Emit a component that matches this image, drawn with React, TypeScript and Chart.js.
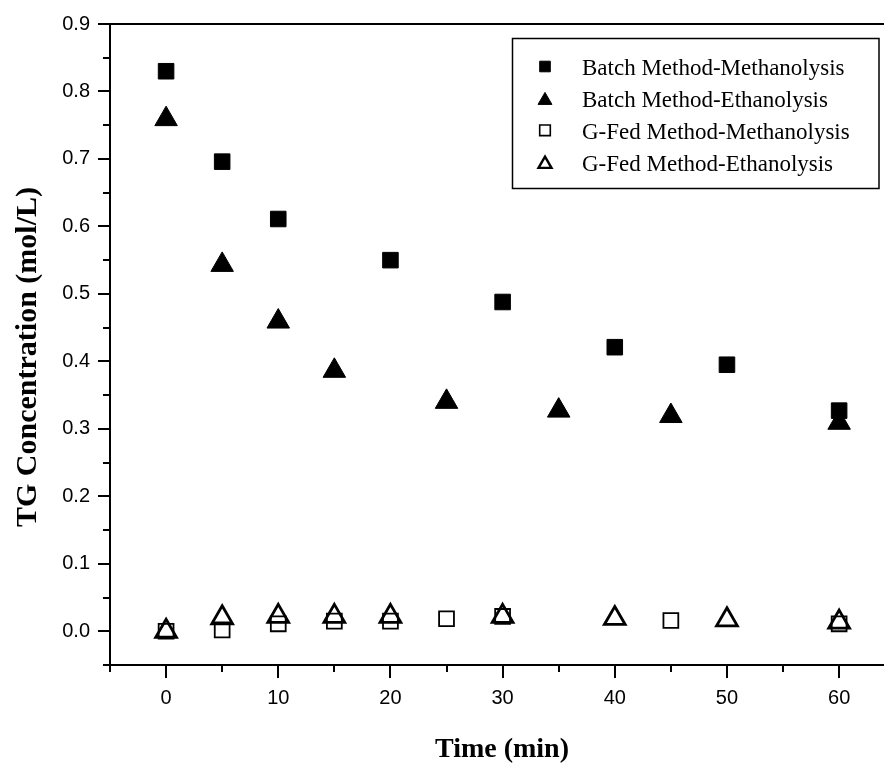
import React, { useEffect, useRef } from 'react';
import { Chart, registerables } from 'chart.js';
import { drawPoint } from 'chart.js/helpers';

Chart.register(...registerables);

// ---- data ----
const seriesNames = [
  'Batch Method-Methanolysis',
  'Batch Method-Ethanolysis',
  'G-Fed Method-Methanolysis',
  'G-Fed Method-Ethanolysis',
];
const batchMethTime = [0, 5, 10, 20, 30, 40, 50, 60];
const batchMethConc = [0.83, 0.696, 0.611, 0.55, 0.488, 0.421, 0.395, 0.327];
const batchEthTime = [0, 5, 10, 15, 25, 35, 45, 60];
const batchEthConc = [0.759, 0.543, 0.459, 0.386, 0.34, 0.327, 0.319, 0.309];
const gfedMethTime = [0, 5, 10, 15, 20, 25, 30, 45, 60];
const gfedMethConc = [0.0, 0.002, 0.011, 0.015, 0.015, 0.0185, 0.022, 0.016, 0.011];
const gfedEthTime = [0, 5, 10, 15, 20, 30, 40, 50, 60];
const gfedEthConc = [0.0, 0.02, 0.022, 0.022, 0.022, 0.022, 0.019, 0.017, 0.0135];

const xMajorTicks = [0, 10, 20, 30, 40, 50, 60];
const xMinorTicks = [-5, 5, 15, 25, 35, 45, 55];
const yMajorTicks = [0, 0.1, 0.2, 0.3, 0.4, 0.5, 0.6, 0.7, 0.8, 0.9];
const yMinorTicks = [-0.05, 0.05, 0.15, 0.25, 0.35, 0.45, 0.55, 0.65, 0.75, 0.85];
const xTitle = 'Time (min)';
const yTitle = 'TG Concentration (mol/L)';

const pts = (xs: number[], ys: number[]) => xs.map((x, i) => ({ x, y: ys[i] }));

const markerStyles = [
  { pointStyle: 'rect', fill: '#000', stroke: '#000', r: 11, bw: 1, lr: 7.5, lbw: 1 },
  { pointStyle: 'triangle', fill: '#000', stroke: '#000', r: 13, bw: 1, lr: 8, lbw: 1 },
  { pointStyle: 'rect', fill: 'rgba(0,0,0,0)', stroke: '#000', r: 10.5, bw: 1.8, lr: 7.5, lbw: 1.6 },
  { pointStyle: 'triangle', fill: 'rgba(0,0,0,0)', stroke: '#000', r: 12, bw: 2.8, lr: 7.5, lbw: 2.4 },
];

const framePlugin = {
  id: 'frameTicks',
  afterDraw(chart: any) {
    const { ctx, chartArea } = chart;
    const xs = chart.scales.x;
    const ys = chart.scales.y;
    const { left, right, top, bottom } = chartArea;
    ctx.save();
    ctx.strokeStyle = '#000';
    ctx.lineWidth = 2;
    ctx.beginPath();
    ctx.moveTo(right + 2, top);
    ctx.lineTo(left, top);
    ctx.lineTo(left, bottom);
    ctx.lineTo(right + 2, bottom);
    ctx.stroke();
    // ticks
    ctx.beginPath();
    yMajorTicks.forEach((v) => {
      const p = Math.round(ys.getPixelForValue(v));
      ctx.moveTo(left, p);
      ctx.lineTo(left - 12, p);
    });
    yMinorTicks.forEach((v) => {
      const p = Math.round(ys.getPixelForValue(v));
      ctx.moveTo(left, p);
      ctx.lineTo(left - 7, p);
    });
    xMajorTicks.forEach((v) => {
      const p = Math.round(xs.getPixelForValue(v));
      ctx.moveTo(p, bottom);
      ctx.lineTo(p, bottom + 13);
    });
    xMinorTicks.forEach((v) => {
      const p = Math.round(xs.getPixelForValue(v));
      ctx.moveTo(p, bottom);
      ctx.lineTo(p, bottom + 7);
    });
    ctx.stroke();

    // axis titles
    ctx.fillStyle = '#000';
    ctx.font = "bold 28px 'Liberation Serif', 'Times New Roman', serif";
    ctx.textAlign = 'center';
    ctx.textBaseline = 'alphabetic';
    ctx.fillText(xTitle, 502, 757);
    ctx.save();
    ctx.translate(36, 357);
    ctx.rotate(-Math.PI / 2);
    ctx.font = "bold 30px 'Liberation Serif', 'Times New Roman', serif";
    ctx.fillText(yTitle, 0, 0);
    ctx.restore();

    // legend box
    ctx.lineWidth = 1.5;
    ctx.strokeRect(512.5, 38.5, 366.5, 150);
    ctx.font = "23px 'Liberation Serif', 'Times New Roman', serif";
    ctx.textAlign = 'left';
    seriesNames.forEach((name, i) => {
      const base = 75 + i * 31.9;
      const m = markerStyles[i];
      const cy = base - 8.5 + (m.pointStyle === 'triangle' ? m.lr / 4 : 0);
      ctx.fillStyle = m.fill;
      ctx.strokeStyle = m.stroke;
      ctx.lineWidth = m.lbw;
      drawPoint(ctx, { pointStyle: m.pointStyle, radius: m.lr, rotation: 0, borderWidth: m.lbw } as any, 545, cy);
      ctx.fillStyle = '#000';
      ctx.fillText(name, 582, base);
    });
    ctx.restore();
  },
};

export default function App() {
  const ref = useRef<HTMLCanvasElement | null>(null);
  useEffect(() => {
    if (!ref.current) return;
    const series = [
      pts(batchMethTime, batchMethConc),
      pts(batchEthTime, batchEthConc),
      pts(gfedMethTime, gfedMethConc),
      pts(gfedEthTime, gfedEthConc),
    ];
    const orders = [4, 3, 2, 1];
    const chart = new Chart(ref.current, {
      type: 'scatter',
      data: {
        datasets: series.map((d, i) => ({
          label: seriesNames[i],
          data: d,
          order: orders[i],
          showLine: false,
          pointStyle: markerStyles[i].pointStyle as any,
          pointRadius: markerStyles[i].r,
          pointHoverRadius: markerStyles[i].r,
          pointBorderWidth: markerStyles[i].bw,
          pointBackgroundColor: markerStyles[i].fill,
          pointBorderColor: markerStyles[i].stroke,
          clip: false as any,
        })),
      },
      options: {
        animation: false,
        responsive: false,
        events: [],
        layout: { autoPadding: false, padding: { top: 24, right: 0, left: 0, bottom: 0 } },
        plugins: { legend: { display: false }, tooltip: { enabled: false } },
        scales: {
          x: {
            type: 'linear',
            min: -5,
            max: 64,
            afterFit: (s: any) => {
              s.height = 98;
              s.paddingLeft = 0;
              s.paddingRight = 0;
              s.paddingTop = 0;
              s.paddingBottom = 0;
            },
            afterBuildTicks: (s: any) => {
              s.ticks = xMajorTicks.map((v) => ({ value: v }));
            },
            grid: { display: false, drawTicks: false },
            border: { display: false },
            ticks: {
              autoSkip: false,
              maxRotation: 0,
              padding: 21,
              color: '#000',
              font: { family: "'Liberation Sans', Arial, sans-serif", size: 20 },
              callback: (v: any) => String(v),
            },
          },
          y: {
            type: 'linear',
            min: -0.05,
            max: 0.9,
            afterFit: (s: any) => {
              s.width = 110;
              s.paddingLeft = 0;
              s.paddingRight = 0;
              s.paddingTop = 0;
              s.paddingBottom = 0;
            },
            afterBuildTicks: (s: any) => {
              s.ticks = yMajorTicks.map((v) => ({ value: v }));
            },
            grid: { display: false, drawTicks: false },
            border: { display: false },
            ticks: {
              autoSkip: false,
              padding: 20,
              color: '#000',
              font: { family: "'Liberation Sans', Arial, sans-serif", size: 20 },
              callback: (v: any) => Number(v).toFixed(1),
            },
          },
        },
      },
      plugins: [framePlugin],
    });
    return () => chart.destroy();
  }, []);
  return (
    <div style={{ position: 'fixed', left: 0, top: 0, width: 884, height: 763, overflow: 'hidden', background: '#fff' }}>
      <canvas ref={ref} width={884} height={763} style={{ display: 'block', width: 884, height: 763 }} />
    </div>
  );
}
